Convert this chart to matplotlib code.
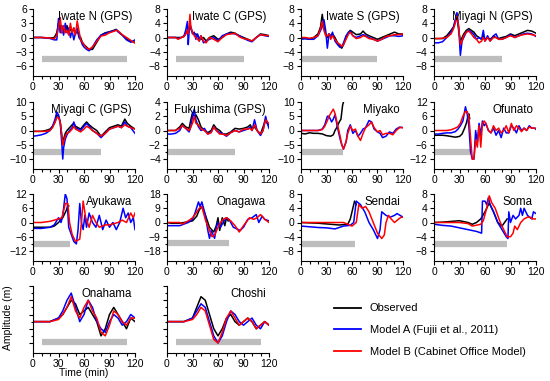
import numpy as np
import matplotlib
matplotlib.use("Agg")
import matplotlib.pyplot as plt
from matplotlib.lines import Line2D

plt.rcParams['font.family'] = ['Liberation Sans', 'DejaVu Sans']

# ---------------- data ----------------
iwn_t = [0,10,20,25,28,30,32,34,36,38,40,42,44,46,48,50,52,54,56,58,60,63,66,70,75,80,85,90,95,98,100,105,110,115,120]
iwn_obs = [0,0,-0.1,0,1,3,2.5,1,2,1.5,2.5,1.2,1.8,1,2,0.8,1.5,0.5,0,-1,-1.5,-2,-2.5,-2.5,-1,0.5,1,1.2,1.5,1.7,1.3,0.5,-0.3,-0.8,-1]
iwn_a = [0,0,-0.2,-0.5,-0.5,4,1,2.5,0.5,3,1,2,0,1.5,-0.5,1,2,0,-0.5,-1.5,-2,-2.5,-2.8,-2,-0.5,0.5,0.8,1.2,1.4,1.6,1.2,0.5,-0.5,-1,-0.5]
iwn_b = [0,0,-0.1,-0.3,0.5,2,4.2,1,2.5,1,1.5,0.5,3,1,2,0.5,3.5,1.5,-0.5,-1,-1.5,-2.2,-2.5,-2,-0.8,0.3,0.5,1,1.3,1.5,1.4,0.6,0,-0.6,-1.2]

iwc_t = [0,10,13,17,20,22,24,25,26,27,28,30,32,34,36,38,40,43,46,50,55,60,65,70,75,80,85,90,95,100,105,110,115,120]
iwc_obs = [0,0,0,0,0.3,1,2,2.5,3,3,2.5,1.5,1,1,0.5,0,-0.5,0,-1,0,0.5,-0.5,0,1,1.5,1.2,0.5,0,-0.5,-1,0,1,0.8,0.5]
iwc_a = [0,0,-0.3,0,0.5,2,4.5,-2,1.5,4,3,1,1.5,-0.5,1,-1,0.5,-1.5,-1,-0.5,0,-1,0.5,1,1.2,1,0.5,-0.2,-0.8,-1.2,0,0.8,0.5,0.3]
iwc_b = [0,0,-0.5,0,0.3,1,2,1,3,6.5,3,1.5,0.5,0,-0.5,-1,0.5,-1,-1.5,0,-0.5,-1.2,0,0.8,1,1.2,0.2,-0.3,-0.5,-1,0,0.8,0.6,0.5]

iws_t = [0,5,10,15,20,23,25,27,29,31,33,35,37,40,43,46,48,50,53,56,58,61,65,70,73,76,80,85,90,95,100,105,110,115,120]
iws_obs = [-0.3,-0.3,-0.5,0,1,3,6.5,3,1,0,1,0.5,1,0,-1.5,-2.5,-3,-2,0,1.5,2,1.5,0.8,1,1.8,1,0.5,0,-0.5,0,0.5,1,1.5,1,1]
iws_a = [-0.5,-0.3,-0.5,-0.5,0.5,2,3,5,2,-3,1,0,1.5,-1,-2,-2.8,-2.5,-1.5,0.5,1.5,1.8,0.5,0,0.5,0.8,0.5,0,-0.5,-1,-0.5,0,0.5,0.5,0.3,0.5]
iws_b = [0,0,-0.2,0,0.5,2.5,4.5,2,0.5,0.5,1,-0.5,0.5,-0.5,-1.5,-2,-2.5,-2,-0.5,1,1.5,0.5,-0.3,0,0.5,0.3,-0.3,-0.5,-1,-0.5,0.3,0.5,0.8,0.8,1]

myn_t = [0,5,10,15,20,23,25,27,29,31,33,35,38,41,44,47,50,53,56,58,60,63,66,70,73,76,80,85,90,95,100,105,110,115,120]
myn_obs = [-0.3,-0.3,-0.3,0.5,2,3,4.5,6,2,-1,0,1,2,2.5,2,1.5,0.5,0,-0.5,0.5,-0.5,0,-0.5,0.3,0,-0.3,0,0.3,1,0.5,1,1.5,2,1.8,1.2]
myn_a = [-1.5,-1.5,-1.2,0,1.5,3,5,7,3,-5,-1,0,1.5,2,1.5,0.8,-0.5,0,-0.5,2,-1,0.5,-1,0.5,1,-0.5,-0.5,0,0.8,0,0.5,1,1.2,1,0.3]
myn_b = [-0.3,-0.3,-0.2,0,1,2.5,4,6,3,-2,-1,0.5,1.5,1.8,1,0,-0.5,-1.5,-1,0,-1,0,-1,0,0,-0.5,-0.5,0,0.5,0,0.5,0.8,1,0.8,0.5]

myc_t = [0,5,10,15,20,23,26,28,30,32,34,35,36,38,40,43,46,48,50,53,56,60,63,66,70,75,80,85,90,95,100,104,108,111,115,120]
myc_obs = [-0.3,-0.3,-0.3,0,0.5,1.5,3,5.5,5,3,-2,-4,-3,-1,0,1,2,2.5,1.5,1,0.5,2,3,2,1,0,-2,-0.5,1,1.5,2,1.5,4,2.5,1.5,0.5]
myc_a = [-2,-1.8,-1.5,-1,0,1.5,4,6.5,5.5,3,-5,-10,-6,-3,-1.5,0,1,3,1,0.5,0,1.5,2.5,1.5,0,-1,-2.5,-1,0.5,1,1.5,1,3,1.5,1,-1]
myc_b = [-0.3,-0.3,-0.3,-0.3,0,1,3,4.5,4.5,3,-2,-5,-4,-2,-1,-0.5,0.5,1.5,0.5,0,-0.5,0.5,1.5,1,0,-1,-2,-1,0.5,1,1.5,1,2,1.5,1,0.5]

fks_t = [0,5,10,15,18,22,26,28,30,32,34,37,40,44,48,52,55,58,62,66,70,75,80,85,90,95,98,100,103,106,110,113,116,118,120]
fks_obs = [0,0,0,0.5,1,0.5,0.3,1.5,2.5,2,2.2,1.5,0.5,0,-0.3,0,0.8,0.3,0,-0.5,-0.5,-0.2,0.3,0.2,0.3,0.5,0.8,0.2,0.5,0,-0.5,0.5,1.5,1,0.8]
fks_a = [-0.5,-0.5,-0.4,0,0.7,0.3,-0.2,0.5,2,3,1.5,0.5,0,0.3,-0.5,-0.2,0.5,0,-0.3,-0.5,-0.8,-0.3,0,-0.2,0,0.2,0.5,0,1.5,0,-0.7,0,2,1,0.3]
fks_b = [0,0,0,0.3,0.7,0.3,0,0.5,1,2,1,0.8,0.2,0,-0.5,-0.3,0.5,0,-0.5,-0.5,-0.7,-0.3,0,-0.2,0.2,0.2,0.3,0,0.8,0,-0.5,0,1.5,1.2,1]

myk_obs_t = [0,5,10,15,20,25,30,35,38,40,42,45,47,49,50]
myk_obs = [-1,-1.2,-0.8,-1,-1,-1.2,-1.8,-2,-1.5,0,1,3,4,9,10]
myk_t = [0,5,10,15,20,25,28,31,33,36,38,40,43,46,48,50,53,55,58,61,64,67,70,73,76,80,83,86,90,93,96,100,104,108,112,116,120]
myk_a = [0,0,0,0,0,0.5,2,5,5,3,4,5.5,1,-3,-5,-6.5,-4,0,2,-1,0,-2,-1,0.5,1,3.5,3,0.5,-0.5,-1,-2.5,-2,-0.5,-1,0.5,1.2,1]
myk_b = [0,0,0,0,0,0.3,1.5,3.5,5,6.5,7.5,6,2,-2,-5,-6.5,-4,-1,1.5,0,0.5,-2,-3.5,-1,1,2,3,1,-0.5,0,-1.5,-1,-1,-1.5,0,1,1]

ofn_obs_t = [0,5,10,15,20,25,30,33,36,38,40,41,42]
ofn_obs = [-2,-2,-2,-2.2,-2.5,-2.8,-2.5,-1.5,1,3,6,7,5]
ofn_t = [0,5,10,15,20,25,28,31,34,37,39,41,43,45,47,49,51,53,55,57,59,61,64,67,70,73,76,79,82,85,88,91,94,97,100,103,106,109,112,115,118,120]
ofn_a = [-1.5,-1.5,-1.2,-1,-1,-0.5,0.5,2,4,10,7,2,-9,-12,-12,0,-5,3,-2,4,2,3,0,-1,1,-2,0,-3,1,-1,-1,2,1,-1,2,0,1,0,2,1,1,0.5]
ofn_b = [0,0,0,0,0.3,1,1.5,3,6,8,8,6,-3,-12,-12,-4,-7,2,-7,3,4,3,0,-1,2,0,1,-1,0,2,-1,3,0,2,1,-0.5,1,0,1.5,1,1,1]

ayk_obs_t = [0,5,10,15,20,25,30,35,39,41,42]
ayk_obs = [-2,-2,-2,-2,-2,-1.5,0,2,5,7,7]
ayk_a_t = [0,10,20,25,30,33,35,38,40,42,45,48,51,53,55,57,59,61,63,66,70,74,78,82,86,90,94,98,102,106,109,112,115,118,120]
ayk_a = [-2.5,-2.5,-2,-1,2,0,3,12,10,-2,-5,-8,-9,-3,8,0,-3,3,-2,4,0,-2,3,-3,1,-2,0,-3,0,6,2,4,0,2,-3]
ayk_b_t = [0,10,20,25,30,34,38,41,43,46,50,55,57,59,62,66,70,74,78,85,90,95,100,105,110,115,118,120]
ayk_b = [0,0,0.5,1,1.5,2,8,8,0,-5,-8,-7,0,9,2,-2,3,0,-2,-1,-1,-0.5,0,1,0,4,2,4]

onw_obs_t = [0,5,10,15,20,25,30,35,38,41,45,50,55,58,60,62,65,68,70,72]
onw_obs = [0,-0.5,-0.5,-0.5,0,0.5,1,4,8,10,5,-3,-6,-2,3,-5,3,-2,3,1]
onw_a_t = [0,10,15,20,25,30,33,37,39,41,45,48,50,52,56,58,60,63,66,70,73,78,82,86,90,95,100,105,108,112,115,120]
onw_a = [-2,-2,-2,-1,0,2,6,13,10,13,5,-5,-10,-5,-10,-3,0,-3,0,3,2,-3,-4,-5,-3,2,3,5,0,4,2,1]
onw_b_t = [0,10,15,18,25,30,33,38,41,45,50,53,56,60,63,66,70,75,80,85,90,97,102,106,110,115,120]
onw_b = [0,0,0,-1,1,3,5,9,10,2,-5,-9,-8,-3,0,2,3,1,-2,-6,-2,3,2,3,5,2,0]

sdi_obs_t = [0,10,20,30,40,45,50,55,58,60,63,65]
sdi_obs = [0,-0.1,-0.2,-0.4,-0.6,-0.7,-0.6,-0.5,1,3,6,5]
sdi_a_t = [0,10,20,30,40,50,58,62,65,70,75,80,85,90,93,95,100,105,110,113,120]
sdi_a = [-1,-1.2,-1.4,-1.5,-1.8,-1,-0.8,0,6,5,3,0,-2,-4.5,-2,3,2,1.5,2,2.5,1.5]
sdi_b_t = [0,10,20,30,40,50,55,60,65,68,72,76,80,85,90,95,98,100,103,106,110,115,118,120]
sdi_b = [0,0,0,0,0,0,-0.5,-1,0,5,4,4.5,3,0,-3,-4.5,-3.5,0,2,1,0,1,1.5,1.5]

sma_obs_t = [0,10,20,30,40,45,50,55,60,65,70,75,80,83,86]
sma_obs = [0,0.1,0.3,0.5,0,-0.5,0,1,3,5.5,3,0,-1,0,1]
sma_a_t = [0,10,20,30,40,50,56,57,60,62,64,66,70,75,80,85,87,88,90,93,96,100,102,104,106,110,115,117,120]
sma_a = [-0.5,-0.8,-1,-1.5,-2,-2.5,-3,6,6,5,7,5,3,0,-2,-4,-4.5,3,0,2,1,2,4,2,4,2,1,3,2.5]
sma_b_t = [0,10,20,30,40,45,55,58,62,65,68,72,75,78,82,86,90,93,95,98,102,106,110,113,116,120]
sma_b = [0,0,0,0,-0.3,-1,-0.5,0.5,4,7.5,5.5,4,2,0,-2,-4,-4,-3,-1,-2,0,1,1.5,1.5,1,1]

onh_t = [0,10,20,30,35,40,45,50,55,60,65,70,75,80,85,90,95,100,105,110,115,120]
onh_obs = [-1,-1,-1,-0.5,0,1,2,1.5,0,0.5,1,0,-1,-3,-2,0,1,0,-1,-2,-0.5,-1]
onh_a = [-1,-1,-1,-0.5,0.5,2,3,1,-1,0,2,1,-1,-2,-2.5,-1,0,-0.5,-1.5,-1,0,-0.5]
onh_b = [-1,-1,-1,-0.7,0,1,2.5,0.5,-0.5,1,2,0.5,-0.5,-2.5,-3,-1.5,0.5,0,-1,-1.5,-0.5,-0.5]

chs_t = [0,10,20,30,35,40,45,50,55,60,65,70,75,80,85,90,95,100,105,110,115,120]
chs_obs = [-1,-1,-1,-0.5,1,2.5,2,0,-2,-3,-2,-0.5,0,-1,-1.5,-1,-0.5,-1,-2,-1.5,-1,-1.5]
chs_a = [-1,-1,-1,-0.5,0.5,1.5,1,-1,-3,-4,-3,-1,0.5,0,-1,-1.5,-1,-0.5,-1.5,-2,-1,-1.5]
chs_b = [-1,-1,-1,-0.7,0,1,0.5,-1.5,-3.5,-4,-2.5,-0.5,0.5,-0.5,-1.5,-1,-0.5,-1,-2,-1.5,-1,-1.5]

names = ["Iwate N (GPS)", "Iwate C (GPS)", "Iwate S (GPS)", "Miyagi N (GPS)",
         "Miyagi C (GPS)", "Fukushima (GPS)", "Miyako", "Ofunato",
         "Ayukawa", "Onagawa", "Sendai", "Soma", "Onahama", "Choshi"]
ylims = [6, 8, 8, 8, 10, 4, 10, 12, 12, 18, 8, 8, 4, 4]
show_ylabels = [True] * 12 + [False, False]
bar_start = [10, 10, 0, 0, 0, 0, 0, 0, 0, 0, 0, 0, 10, 10]
bar_end = [110, 90, 90, 80, 80, 80, 49, 42, 44, 73, 63, 86, 110, 110]
bar_level = [-4.5, -6, -6, -6, -7.5, -3, -7.5, -9, -9, -13, -6, -6, -3.9, -3.9]
legend_labels = ["Observed", "Model A (Fujii et al., 2011)", "Model B (Cabinet Office Model)"]

series = [
    ((iwn_t, iwn_obs), (iwn_t, iwn_a), (iwn_t, iwn_b)),
    ((iwc_t, iwc_obs), (iwc_t, iwc_a), (iwc_t, iwc_b)),
    ((iws_t, iws_obs), (iws_t, iws_a), (iws_t, iws_b)),
    ((myn_t, myn_obs), (myn_t, myn_a), (myn_t, myn_b)),
    ((myc_t, myc_obs), (myc_t, myc_a), (myc_t, myc_b)),
    ((fks_t, fks_obs), (fks_t, fks_a), (fks_t, fks_b)),
    ((myk_obs_t, myk_obs), (myk_t, myk_a), (myk_t, myk_b)),
    ((ofn_obs_t, ofn_obs), (ofn_t, ofn_a), (ofn_t, ofn_b)),
    ((ayk_obs_t, ayk_obs), (ayk_a_t, ayk_a), (ayk_b_t, ayk_b)),
    ((onw_obs_t, onw_obs), (onw_a_t, onw_a), (onw_b_t, onw_b)),
    ((sdi_obs_t, sdi_obs), (sdi_a_t, sdi_a), (sdi_b_t, sdi_b)),
    ((sma_obs_t, sma_obs), (sma_a_t, sma_a), (sma_b_t, sma_b)),
    ((onh_t, onh_obs), (onh_t, onh_a), (onh_t, onh_b)),
    ((chs_t, chs_obs), (chs_t, chs_a), (chs_t, chs_b)),
]
colors = ["black", "blue", "red"]

# ---------------- figure ----------------
W, H = 550, 381
fig = plt.figure(figsize=(W / 100, H / 100), dpi=100)
col_left = [33, 167, 301, 434]
row_bottom = [76, 169, 261, 353]
aw, ah = 102, 67
label_span = 57  # pixels covered by the labelled y range

for i in range(14):
    r, c = divmod(i, 4)
    ax = fig.add_axes([col_left[c] / W, 1 - row_bottom[r] / H, aw / W, ah / H])
    ax.plot([bar_start[i], bar_end[i]], [bar_level[i], bar_level[i]],
            color="#bdbdbd", lw=4.5, solid_capstyle="butt", zorder=1)
    for (tt, vv), col in zip(series[i], colors):
        ax.plot(tt, vv, color=col, lw=1.1, zorder=2)
    lim = ylims[i]
    extra = 2 * lim * (ah - label_span) / label_span
    ax.set_xlim(0, 120)
    ax.set_ylim(-lim - extra, lim)
    ax.set_xticks([0, 30, 60, 90, 120])
    ax.set_xticks(np.arange(0, 121, 10), minor=True)
    major = np.linspace(-lim, lim, 5)
    ax.set_yticks(major)
    ax.set_yticks(np.linspace(-lim, lim, 9), minor=True)
    if show_ylabels[i]:
        ax.set_yticklabels([f"{int(v)}".replace("-", "\u2212") for v in major])
    else:
        ax.set_yticklabels([])
    ax.tick_params(labelsize=7.5, length=3, width=0.8, pad=1.5)
    ax.tick_params(which="minor", length=1.8, width=0.8)
    for s in ["top", "right"]:
        ax.spines[s].set_visible(False)
    ax.text(0.97, 0.88, names[i], transform=ax.transAxes, ha="right", va="center",
            fontsize=8.3)

# legend
lax = fig.add_axes([301 / W, 1 - 369 / H, 240 / W, 70 / H])
lax.axis("off")
handles = [Line2D([0], [0], color=c, lw=1.3) for c in colors]
lax.legend(handles, legend_labels, loc="upper left", frameon=False, fontsize=8,
           handlelength=2.4, labelspacing=1.05, borderaxespad=0, bbox_to_anchor=(0.12, 1.0))

fig.text(8 / W, 1 - 318 / H, "Amplitude (m)", rotation=90, ha="center", va="center", fontsize=7.5)
fig.text(84 / W, 1 - 373 / H, "Time (min)", ha="center", va="center", fontsize=7.5)

fig.savefig("out.png", dpi=100)
